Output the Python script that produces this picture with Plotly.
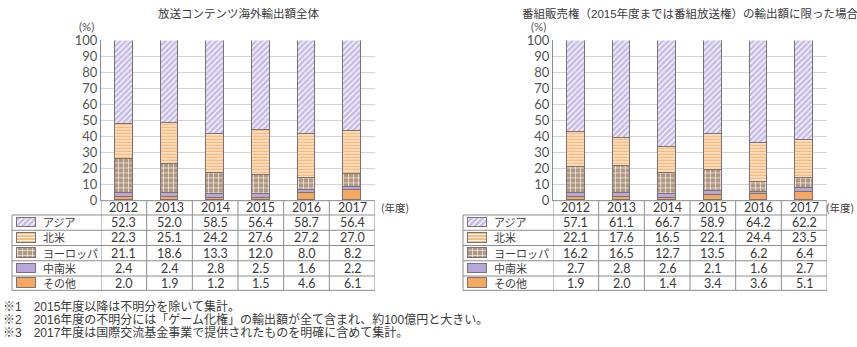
import plotly.graph_objects as go

# ---------------- data ----------------
years = ["2012", "2013", "2014", "2015", "2016", "2017"]
regions = ["アジア", "北米", "ヨーロッパ", "中南米", "その他"]

left_title = "放送コンテンツ海外輸出額全体"
left_asia = [52.3, 52.0, 58.5, 56.4, 58.7, 56.4]
left_na = [22.3, 25.1, 24.2, 27.6, 27.2, 27.0]
left_europe = [21.1, 18.6, 13.3, 12.0, 8.0, 8.2]
left_latam = [2.4, 2.4, 2.8, 2.5, 1.6, 2.2]
left_other = [2.0, 1.9, 1.2, 1.5, 4.6, 6.1]

right_title = "番組販売権（2015年度までは番組放送権）の輸出額に限った場合"
right_asia = [57.1, 61.1, 66.7, 58.9, 64.2, 62.2]
right_na = [22.1, 17.6, 16.5, 22.1, 24.4, 23.5]
right_europe = [16.2, 16.5, 12.7, 13.5, 6.2, 6.4]
right_latam = [2.7, 2.8, 2.6, 2.1, 1.6, 2.7]
right_other = [1.9, 2.0, 1.4, 3.4, 3.6, 5.1]

y_ticks = [0, 10, 20, 30, 40, 50, 60, 70, 80, 90, 100]
y_unit = "(%)"
x_unit = "(年度)"
notes = [
    "※1　2015年度以降は不明分を除いて集計。",
    "※2　2016年度の不明分には「ゲーム化権」の輸出額が全て含まれ、約100億円と大きい。",
    "※3　2017年度は国際交流基金事業で提供されたものを明確に含めて集計。",
]

# ---------------- styling / layout ----------------
W, H = 857, 347
FONT = "Noto Sans CJK JP"
NUMFONT = "Lato"
NOTEFONT = "Liberation Sans, Noto Sans CJK JP"
TXT = "#3a3a3a"
LINE = "#8c8c8c"
OUTLINE = "#7d7272"


def py(p):
    return 1 - p / H


def px(p):
    return p / W


styles = {
    "アジア": dict(color="#c6bce6", shape="/", size=4, solidity=0.3),
    "北米": dict(color="#f9bb7d", shape="-", size=3, solidity=0.3),
    "ヨーロッパ": dict(color="#b09780", shape="+", size=5, solidity=0.22),
    "中南米": dict(color="#b6a8da", shape="", size=4, solidity=0.3),
    "その他": dict(color="#f6a760", shape="", size=4, solidity=0.3),
}

panels = [
    dict(xa="x", ya="y", title=left_title, left=101, right=375, label_left=12,
         unit_x=379, unit_anchor="left",
         data={"アジア": left_asia, "北米": left_na, "ヨーロッパ": left_europe,
               "中南米": left_latam, "その他": left_other}),
    dict(xa="x2", ya="y2", title=right_title, left=553, right=827, label_left=463,
         unit_x=856, unit_anchor="right",
         data={"アジア": right_asia, "北米": right_na, "ヨーロッパ": right_europe,
               "中南米": right_latam, "その他": right_other}),
]

plot_top, plot_bot = 34, 202
row_y = [202, 217, 233, 249, 265, 281, 296]

fig = go.Figure()
shapes = []
annotations = []


def pattern(st):
    if st["shape"]:
        return dict(shape=st["shape"], fgcolor="white", bgcolor=st["color"],
                    size=st["size"], solidity=st["solidity"], fillmode="replace")
    return dict(shape="")


for p in panels:
    # stacked bars: bottom-up order
    for reg in reversed(regions):
        st = styles[reg]
        fig.add_trace(go.Bar(
            x=years, y=p["data"][reg], xaxis=p["xa"], yaxis=p["ya"],
            width=0.39, name=reg, showlegend=False,
            marker=dict(color=st["color"], pattern=pattern(st),
                        line=dict(color=OUTLINE, width=1)),
            hoverinfo="skip",
        ))
    xr = p["xa"]
    # title
    annotations.append(dict(text=p["title"], xref="paper", yref="paper",
                            x=px((p["left"] + p["right"]) / 2), y=py(6),
                            xanchor="center", yanchor="middle", showarrow=False,
                            font=dict(size=11.5, color=TXT, family=NOTEFONT)))
    annotations.append(dict(text=y_unit, xref="paper", yref="paper",
                            x=px(p["left"] - 15), y=py(19.5), xanchor="center",
                            yanchor="middle", showarrow=False,
                            font=dict(size=11.5, color="#555", family=NUMFONT)))
    annotations.append(dict(text=x_unit, xref="paper", yref="paper",
                            x=px(p["unit_x"]), y=py(209), xanchor=p["unit_anchor"],
                            yanchor="middle", showarrow=False,
                            font=dict(size=10.5, color=TXT)))
    # table header (years)
    for j, yr in enumerate(years):
        annotations.append(dict(text=yr, xref=xr, yref="paper", x=j,
                                y=py((row_y[0] + row_y[1]) / 2), xanchor="center",
                                yanchor="middle", showarrow=False,
                                font=dict(size=12.5, color=TXT, family=NUMFONT)))
    # table rows
    for i, reg in enumerate(regions):
        yc = (row_y[i + 1] + row_y[i + 2]) / 2
        annotations.append(dict(text=reg, xref="paper", yref="paper",
                                x=px(p["label_left"] + 29), y=py(yc - 0.5),
                                xanchor="left", yanchor="middle", showarrow=False,
                                font=dict(size=11, color=TXT)))
        for j, v in enumerate(p["data"][reg]):
            annotations.append(dict(text=f"{v:.1f}", xref=xr, yref="paper", x=j,
                                    y=py(yc), xanchor="center", yanchor="middle",
                                    showarrow=False,
                                    font=dict(size=12.5, color=TXT, family=NUMFONT)))
        # legend swatch via bar on pixel overlay axis
        st = styles[reg]
        fig.add_trace(go.Bar(
            x=[p["label_left"] + 14], y=[10], base=[yc - 5], width=[19],
            xaxis="x3", yaxis="y3", showlegend=False, hoverinfo="skip",
            marker=dict(color=st["color"], pattern=pattern(st),
                        line=dict(color=OUTLINE, width=1)),
        ))
    # table lines
    for k in range(1, len(row_y)):
        shapes.append(dict(type="line", xref="paper", yref="paper",
                           x0=px(p["label_left"]), x1=px(p["right"]),
                           y0=py(row_y[k]), y1=py(row_y[k]),
                           line=dict(color=LINE, width=1)))
    shapes.append(dict(type="line", xref="paper", yref="paper",
                       x0=px(p["left"]), x1=px(p["right"]),
                       y0=py(row_y[0]), y1=py(row_y[0]),
                       line=dict(color=LINE, width=1)))
    for j in range(len(years) + 1):
        shapes.append(dict(type="line", xref=xr, yref="paper",
                           x0=j - 0.5, x1=j - 0.5, y0=py(row_y[0]), y1=py(row_y[-1]),
                           line=dict(color=LINE, width=1)))
    shapes.append(dict(type="line", xref="paper", yref="paper",
                       x0=px(p["label_left"]), x1=px(p["label_left"]),
                       y0=py(row_y[1]), y1=py(row_y[-1]),
                       line=dict(color=LINE, width=1)))

# footnotes
for i, n in enumerate(notes):
    annotations.append(dict(text=n, xref="paper", yref="paper", x=px(1),
                            y=py(312.5 + i * 14), xanchor="left", yanchor="middle",
                            showarrow=False,
                            font=dict(size=12, color=TXT, family=NOTEFONT)))

axis_common_x = dict(type="category", range=[-0.5, 5.5], showticklabels=False,
                     showgrid=False, showline=False, zeroline=False, ticks="")
axis_common_y = dict(range=[0, 100], tickvals=y_ticks, showgrid=True,
                     gridcolor="#d4d4d4", gridwidth=1, zeroline=False,
                     showline=True, linecolor=LINE, linewidth=1, ticks="",
                     tickfont=dict(size=13, color="#555", family=NUMFONT))

p0, p1 = panels
fig.update_layout(
    width=W, height=H,
    margin=dict(l=0, r=0, t=0, b=0),
    paper_bgcolor="white", plot_bgcolor="rgba(0,0,0,0)",
    font=dict(family=FONT, color=TXT),
    barmode="stack", bargap=0,
    xaxis=dict(domain=[px(p0["left"]), px(p0["right"])], anchor="y", **axis_common_x),
    yaxis=dict(domain=[py(plot_bot), py(plot_top)], anchor="x", **axis_common_y),
    xaxis2=dict(domain=[px(p1["left"]), px(p1["right"])], anchor="y2", **axis_common_x),
    yaxis2=dict(domain=[py(plot_bot), py(plot_top)], anchor="x2", **axis_common_y),
    xaxis3=dict(domain=[0, 1], range=[0, W], visible=False, anchor="y3"),
    yaxis3=dict(domain=[0, 1], range=[H, 0], visible=False, anchor="x3"),
    shapes=shapes,
    annotations=annotations,
    showlegend=False,
)

fig.write_html("out.html")
